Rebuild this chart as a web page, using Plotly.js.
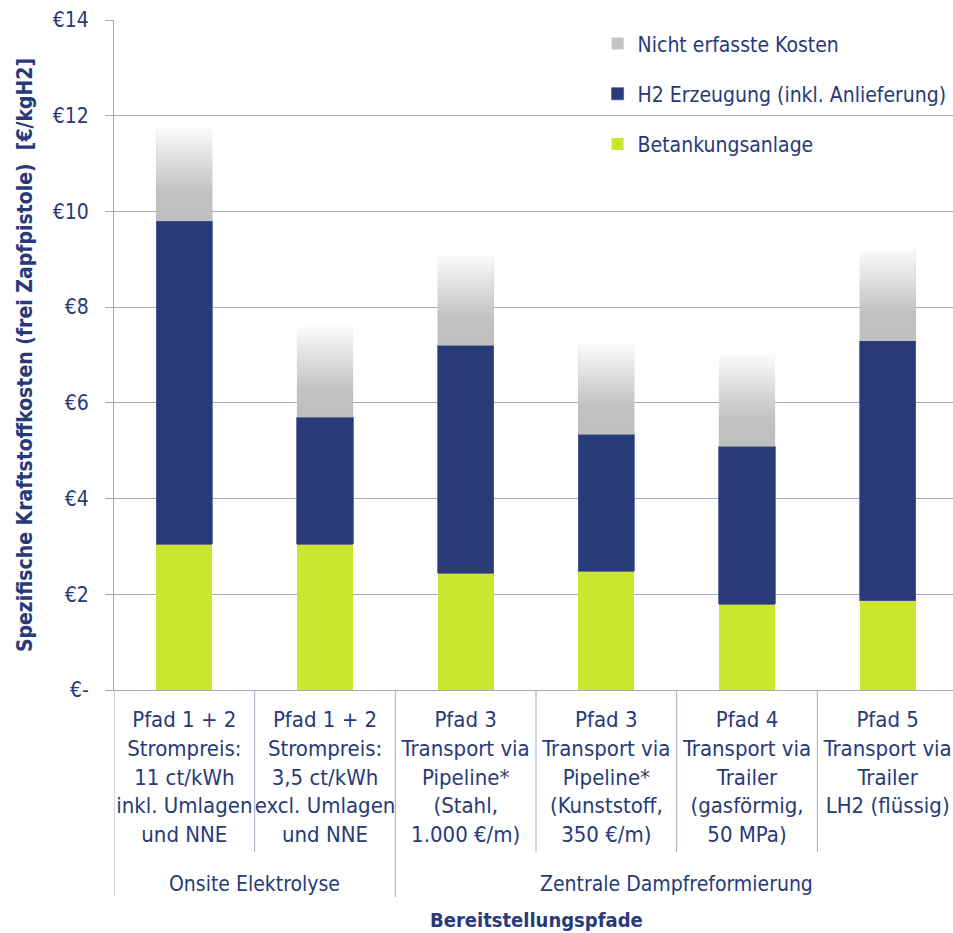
<!DOCTYPE html>
<html>
<head>
<meta charset="utf-8">
<script src="https://cdn.plot.ly/plotly-3.0.1.min.js"></script>
<style>html,body{margin:0;padding:0;overflow:hidden;background:#fff}</style>
</head>
<body>
<div id="chart"></div>
<script>
// ---- data ----
const groups = ["Onsite Elektrolyse", "Onsite Elektrolyse", "Zentrale Dampfreformierung", "Zentrale Dampfreformierung", "Zentrale Dampfreformierung", "Zentrale Dampfreformierung"];
const categories = [
  "Pfad 1 + 2<br>Strompreis:<br>11 ct/kWh<br>inkl. Umlagen<br>und NNE",
  "Pfad 1 + 2<br>Strompreis:<br>3,5 ct/kWh<br>excl. Umlagen<br>und NNE",
  "Pfad 3<br>Transport via<br>Pipeline*<br>(Stahl,<br>1.000 €/m)",
  "Pfad 3<br>Transport via<br>Pipeline*<br>(Kunststoff,<br>350 €/m)",
  "Pfad 4<br>Transport via<br>Trailer<br>(gasförmig,<br>50 MPa)",
  "Pfad 5<br>Transport via<br>Trailer<br>LH2 (flüssig)"
];
const betankungsanlage = [3.05, 3.05, 2.44, 2.48, 1.79, 1.87];
const h2Erzeugung = [6.75, 2.65, 4.76, 2.86, 3.30, 5.43];
const nichtErfasst = [1.95, 1.89, 1.89, 1.90, 1.91, 1.90];
const seriesNames = ["Betankungsanlage", "H2 Erzeugung (inkl. Anlieferung)", "Nicht erfasste Kosten"];
const yTickVals = [0, 2, 4, 6, 8, 10, 12, 14];
const yTickText = ["€-", "€2", "€4", "€6", "€8", "€10", "€12", "€14"];
const xTitle = "Bereitstellungspfade";
const yTitle = "Spezifische Kraftstoffkosten (frei Zapfpistole)  [€/kgH2]";

// ---- styles ----
const NAVY = "#283a77";
const GREEN = "#cbe62e";
const GRAY = "#c4c4c4";
const GRID = "#a6a9c2";
const FONT = "'Liberation Sans Narrow', 'DejaVu Sans Condensed', 'Arial Narrow', sans-serif";
const BARW = 0.4;
const PLOT_H = 670;

const xIdx = categories.map((_, i) => i);
const traces = [
  {type: "bar", name: seriesNames[0], x: xIdx, y: betankungsanlage, marker: {color: GREEN}, width: BARW, legendgroup: "a", legendrank: 3, hoverinfo: "y"},
  {type: "bar", name: seriesNames[1], x: xIdx, y: h2Erzeugung, marker: {color: NAVY, line: {color: "#4a5a95", width: 0.8}}, width: BARW, legendgroup: "b", legendrank: 2, hoverinfo: "y"},
  {type: "bar", name: seriesNames[2], x: xIdx, y: nichtErfasst, marker: {color: GRAY}, width: BARW, legendgroup: "c", legendrank: 1, hoverinfo: "y"}
];

// gradient overlay for the "Nicht erfasste Kosten" segments (derived from the data arrays)
for (let i = 0; i < categories.length; i++) {
  const base = betankungsanlage[i] + h2Erzeugung[i];
  const top = base + nichtErfasst[i];
  traces.push({
    type: "scatter", mode: "lines",
    x: [i - BARW / 2, i + BARW / 2, i + BARW / 2, i - BARW / 2, i - BARW / 2],
    y: [base, base, top, top, base],
    fill: "toself", line: {width: 0, color: "rgba(0,0,0,0)"},
    fillgradient: {type: "vertical", colorscale: [[0, "#bfbfbf"], [0.3, "#c1c1c1"], [1, "#fbfbfb"]]},
    showlegend: false, hoverinfo: "skip"
  });
}

// dividers and group labels below the x axis
const shapes = [];
const annotations = [];
for (let i = 0; i < categories.length; i++) {
  const groupStart = i === 0 || groups[i] !== groups[i - 1];
  shapes.push({
    type: "line", xref: "x", yref: "paper", layer: "above",
    x0: i - 0.5, x1: i - 0.5, y0: 0, y1: groupStart ? -207 / PLOT_H : -162 / PLOT_H,
    line: {color: GRID, width: 1}
  });
}
const uniqueGroups = [...new Set(groups)];
uniqueGroups.forEach(g => {
  const idx = xIdx.filter(i => groups[i] === g);
  const center = (idx[0] + idx[idx.length - 1]) / 2;
  annotations.push({
    xref: "x", yref: "paper", x: center, y: -194 / PLOT_H, yanchor: "middle", xanchor: "center",
    text: g, showarrow: false, font: {size: 21, color: NAVY, family: FONT}
  });
});
annotations.push({
  xref: "paper", yref: "paper", x: 0.5, y: -230 / PLOT_H, yanchor: "middle", xanchor: "center",
  text: "<b>" + xTitle + "</b>", showarrow: false, font: {size: 20, color: NAVY, family: FONT}
});

const layout = {
  width: 958, height: 933,
  margin: {l: 114, r: 0, t: 20, b: 243},
  paper_bgcolor: "#fff", plot_bgcolor: "#fff",
  font: {family: FONT, color: NAVY, size: 21},
  barmode: "stack",
  showlegend: true,
  legend: {
    x: 0.573, xanchor: "left", y: 0.995, yanchor: "top",
    bgcolor: "rgba(0,0,0,0)", traceorder: "grouped", tracegroupgap: 20,
    font: {size: 21, color: NAVY, family: FONT}, itemwidth: 30
  },
  xaxis: {
    range: [-0.5, 5.5],
    tickmode: "array", tickvals: xIdx, ticktext: categories,
    tickangle: 0, ticks: "", ticklabelstandoff: 10,
    showline: true, linecolor: GRID, linewidth: 1,
    showgrid: false, zeroline: false,
    tickfont: {size: 22, color: NAVY, family: FONT}
  },
  yaxis: {
    range: [0, 14], tickvals: yTickVals, ticktext: yTickText,
    showgrid: true, gridcolor: GRID, gridwidth: 1,
    zeroline: false,
    showline: true, linecolor: GRID, linewidth: 1,
    ticks: "outside", ticklen: 8, tickcolor: GRID,
    ticklabelstandoff: 12,
    tickfont: {size: 21, color: NAVY, family: FONT},
    title: {text: "<b>" + yTitle + "</b>", font: {size: 21, color: NAVY, family: FONT}, standoff: 14}
  },
  shapes: shapes,
  annotations: annotations
};

Plotly.newPlot("chart", traces, layout, {displayModeBar: false, responsive: false});
</script>
</body>
</html>
